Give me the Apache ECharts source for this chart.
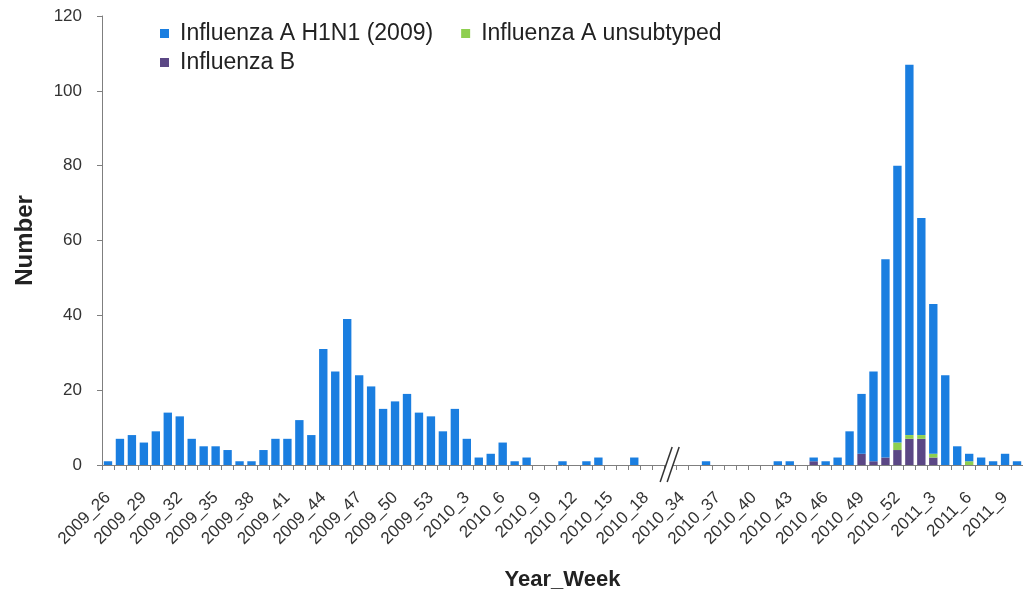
<!DOCTYPE html>
<html><head><meta charset="utf-8">
<script src="https://cdn.jsdelivr.net/npm/echarts@6/dist/echarts.min.js"></script>
<style>html,body{margin:0;padding:0;background:#fff}#c{width:1023px;height:593px}</style>
</head><body><div id="c"></div>
<script>
// Categories (year_week); '' is the empty slot where the axis is broken
const categories = [
  '2009_26','2009_27','2009_28','2009_29','2009_30','2009_31','2009_32','2009_33','2009_34','2009_35',
  '2009_36','2009_37','2009_38','2009_39','2009_40','2009_41','2009_42','2009_43','2009_44','2009_45',
  '2009_46','2009_47','2009_48','2009_49','2009_50','2009_51','2009_52','2009_53',
  '2010_1','2010_2','2010_3','2010_4','2010_5','2010_6','2010_7','2010_8','2010_9','2010_10',
  '2010_11','2010_12','2010_13','2010_14','2010_15','2010_16','2010_17','2010_18','2010_19',
  '',
  '2010_34','2010_35','2010_36','2010_37','2010_38','2010_39','2010_40','2010_41','2010_42','2010_43',
  '2010_44','2010_45','2010_46','2010_47','2010_48','2010_49','2010_50','2010_51','2010_52',
  '2011_1','2011_2','2011_3','2011_4','2011_5','2011_6','2011_7','2011_8','2011_9','2011_10'
];
const breakLabel = '';

const h1n1 = [
  1,7,8,6,9,14,13,7,5,5, 4,1,1,4,7,7,12,8,31,25, 39,24,21,15,17,19,14,13,
  9,15,7,2,3,6,1,2,0,0, 1,0,1,2,0,0,2,0,0,
  0,
  0,0,1,0,0,0,0,0,1,1, 0,1,1,2,9,16,24,53,74,
  99,58,40,24,5,2,2,1,3,1
];
const unsubtyped = [
  0,0,0,0,0,0,0,0,0,0, 0,0,0,0,0,0,0,0,0,0, 0,0,0,0,0,0,0,0,
  0,0,0,0,0,0,0,0,0,0, 0,0,0,0,0,0,0,0,0,
  0,
  0,0,0,0,0,0,0,0,0,0, 0,0,0,0,0,0,0,0,2,
  1,1,1,0,0,1,0,0,0,0
];
const fluB = [
  0,0,0,0,0,0,0,0,0,0, 0,0,0,0,0,0,0,0,0,0, 0,0,0,0,0,0,0,0,
  0,0,0,0,0,0,0,0,0,0, 0,0,0,0,0,0,0,0,0,
  0,
  0,0,0,0,0,0,0,0,0,0, 0,1,0,0,0,3,1,2,4,
  7,7,2,0,0,0,0,0,0,0
];
const yTicks = [0,20,40,60,80,100,120];
const seriesNames = ['Influenza A H1N1 (2009)','Influenza A unsubtyped','Influenza B'];

const FONT = 'Liberation Sans, Arial, sans-serif';
const chart = echarts.init(document.getElementById('c'), null, {renderer:'canvas'});
const legendText = {fontFamily: FONT, fontSize: 23, color: '#222', padding:[0,0,0,6]};
chart.setOption({
  animation: false,
  backgroundColor: '#fff',
  color: ['#1a7ee0','#8ecf4f','#5b4785'],
  legend: [
    {data:[seriesNames[0], seriesNames[1]], left: 155, top: 17, itemWidth: 9, itemHeight: 9, itemGap: 28,
     icon:'rect', textStyle: legendText},
    {data:[seriesNames[2]], left: 155, top: 46, itemWidth: 9, itemHeight: 9,
     icon:'rect', textStyle: legendText}
  ],
  grid: {left: 102, right: 0, top: 16, bottom: 128, containLabel: false, outerBoundsMode: 'none'},
  xAxis: {
    type: 'category', data: categories,
    name: 'Year_Week', nameLocation: 'middle', nameGap: 104,
    nameTextStyle: {fontFamily: FONT, fontSize: 22, fontWeight: 'bold', color: '#222'},
    axisLine: {lineStyle: {color: '#7f7f7f'}},
    axisTick: {show: true, interval: 0, length: 5, lineStyle: {color: '#7f7f7f'}},
    axisLabel: {interval: 2, rotate: 45, fontFamily: FONT, fontSize: 17, color: '#333', margin: 30}
  },
  yAxis: {
    type: 'value', min: yTicks[0], max: yTicks[yTicks.length-1], interval: yTicks[1]-yTicks[0],
    name: 'Number', nameLocation: 'middle', nameGap: 65, nameRotate: 90,
    nameTextStyle: {fontFamily: FONT, fontSize: 24, fontWeight: 'bold', color: '#222'},
    splitLine: {show: false},
    axisLine: {show: true, lineStyle: {color: '#7f7f7f'}},
    axisTick: {show: true, length: 5, lineStyle: {color: '#7f7f7f'}},
    axisLabel: {fontFamily: FONT, fontSize: 17, color: '#333', margin: 20}
  },
  series: [
    {name: seriesNames[2], type: 'bar', stack: 'all', data: fluB, itemStyle:{color:'#5b4785'}, barCategoryGap: '30%'},
    {name: seriesNames[1], type: 'bar', stack: 'all', data: unsubtyped, itemStyle:{color:'#8ecf4f'}},
    {name: seriesNames[0], type: 'bar', stack: 'all', data: h1n1, itemStyle:{color:'#1a7ee0'}}
  ]
});

// axis break marks at the empty category
const bi = categories.indexOf(breakLabel);
const p = chart.convertToPixel({gridIndex: 0}, [bi, 0]);
const cx = p[0], cy = p[1];
chart.setOption({
  graphic: [
    {type:'polygon', shape:{points:[[cx-10,cy+17],[cx+2,cy-18],[cx+9,cy-18],[cx-3,cy+17]]},
     style:{fill:'#fff'}, z: 100},
    {type:'line', shape:{x1:cx-10,y1:cy+17,x2:cx+2,y2:cy-18}, style:{stroke:'#333',lineWidth:1.5}, z:101},
    {type:'line', shape:{x1:cx-3,y1:cy+17,x2:cx+9,y2:cy-18}, style:{stroke:'#333',lineWidth:1.5}, z:101}
  ]
});
</script>
</body></html>
